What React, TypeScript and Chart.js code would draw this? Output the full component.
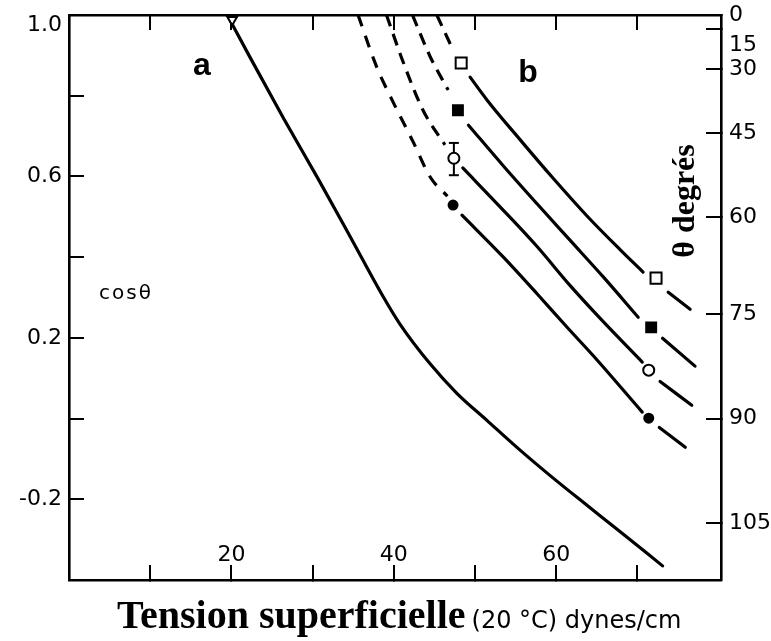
import React, { useEffect, useRef } from 'react';
import { Chart, registerables } from 'chart.js';

Chart.register(...registerables);

// ---- axes ----
const xTickValues = [10, 20, 30, 40, 50, 60, 70];
const xTickLabels = ['', '20', '', '40', '', '60', ''];
const cosTickValues = [-0.2, 0, 0.2, 0.4, 0.6, 0.8, 1.0];
const cosTickLabels: (string | string[])[] = ['-0.2', '', '0.2', '', '0.6', '', ['', '1.0']];
const thetaTicks = [105, 90, 75, 60, 45, 30, 15, 0];
const thetaTickLabels: (string | string[])[] = ['105', '90', '75', '60', '45', '30', ['', '15'], '0'];

// ---- curve a ----
const curveAX = [19.5, 22.3, 26.4, 30.6, 34.6, 38.7, 40.8, 44.5, 47.8, 51.5, 55.2, 59.3, 63.3, 67.5, 73.1];
const curveAY = [1.0, 0.895, 0.745, 0.597, 0.452, 0.302, 0.233, 0.135, 0.062, -0.005, -0.072, -0.142, -0.207, -0.274, -0.365];
const curveAMarkerX = [20.1];
const curveAMarkerY = [0.988];

// ---- curves b : open square ----
const sqOpenDashX = [45.3, 47.3];
const sqOpenDashY = [1.0, 0.913];
const sqOpenSolidX = [49.4, 51.5, 55.6, 59.6, 63.8, 67.9, 70.7];
const sqOpenSolidY = [0.846, 0.789, 0.69, 0.596, 0.502, 0.418, 0.363];
const sqOpenTailX = [73.8, 76.5];
const sqOpenTailY = [0.313, 0.271];
const sqOpenMarkX = [48.3, 72.3];
const sqOpenMarkY = [0.881, 0.348];

// ---- filled square ----
const sqFillDashX = [42.3, 44.5, 46.7];
const sqFillDashY = [1.0, 0.896, 0.814];
const sqFillSolidX = [49.2, 53.5, 57.7, 61.7, 65.8, 70.1];
const sqFillSolidY = [0.727, 0.626, 0.531, 0.442, 0.351, 0.251];
const sqFillTailX = [73.1, 77.1];
const sqFillTailY = [0.199, 0.13];
const sqFillMarkX = [47.9, 71.7];
const sqFillMarkY = [0.764, 0.226];

// ---- open circle ----
const ciOpenDashX = [39.1, 41.2, 43.6, 46.3];
const ciOpenDashY = [1.0, 0.881, 0.764, 0.678];
const ciOpenSolidX = [48.5, 53.5, 57.7, 61.7, 65.8, 70.6];
const ciOpenSolidY = [0.621, 0.516, 0.425, 0.33, 0.24, 0.14];
const ciOpenTailX = [72.8, 76.7];
const ciOpenTailY = [0.092, 0.033];
const ciOpenMarkX = [47.4, 71.4];
const ciOpenMarkY = [0.645, 0.12];
const ciOpenErrX = [47.4, 47.4];
const ciOpenErrY = [0.603, 0.683];

// ---- filled circle ----
const ciFillDashX = [35.6, 37.9, 39.8, 42.4, 44.5, 46.6];
const ciFillDashY = [1.0, 0.871, 0.789, 0.685, 0.598, 0.551];
const ciFillSolidX = [48.4, 53.5, 57.7, 61.4, 64.6, 70.6];
const ciFillSolidY = [0.504, 0.4, 0.308, 0.225, 0.155, 0.016];
const ciFillTailX = [72.7, 75.9];
const ciFillTailY = [-0.022, -0.071];
const ciFillMarkX = [47.3, 71.4];
const ciFillMarkY = [0.529, 0.001];

const pts = (xs: number[], ys: number[]) => xs.map((x, i) => ({ x, y: ys[i] }));

const lineDs = (xs: number[], ys: number[], dash: number[] = [], width = 3.2) => ({
  data: pts(xs, ys),
  showLine: true,
  borderColor: '#000',
  borderWidth: width,
  borderDash: dash,
  borderCapStyle: dash.length ? 'butt' : 'round',
  pointRadius: 0,
  cubicInterpolationMode: 'monotone',
  fill: false,
});

const markDs = (xs: number[], ys: number[], style: string, radius: number, fill: string, rotation = 0) => ({
  data: pts(xs, ys),
  showLine: false,
  pointStyle: style,
  pointRadius: radius,
  pointRotation: rotation,
  pointBackgroundColor: fill,
  pointBorderColor: '#000',
  pointBorderWidth: 2,
});

const textPlugin = {
  id: 'texts',
  afterDraw(chart: any) {
    const ctx = chart.ctx as CanvasRenderingContext2D;
    ctx.save();
    ctx.fillStyle = '#000';
    ctx.textBaseline = 'alphabetic';
    ctx.textAlign = 'center';
    ctx.font = 'bold 32px "Liberation Sans"';
    ctx.fillText('a', 202, 75);
    ctx.fillText('b', 528, 82);

    ctx.textAlign = 'left';
    ctx.font = '20px "DejaVu Sans"';
    (ctx as any).letterSpacing = '2px';
    ctx.fillText('cosθ', 99, 299);
    (ctx as any).letterSpacing = '0px';

    // right axis title
    ctx.save();
    ctx.translate(694, 201);
    ctx.rotate(-Math.PI / 2);
    ctx.textAlign = 'center';
    ctx.font = 'bold 32px "Liberation Serif"';
    ctx.fillText('θ degrés', 0, 0);
    ctx.restore();

    // x axis title
    ctx.textAlign = 'left';
    ctx.font = 'bold 40px "Liberation Serif"';
    const t1 = 'Tension superficielle';
    ctx.fillText(t1, 117, 628);
    const w1 = ctx.measureText(t1).width;
    ctx.font = '24px "DejaVu Sans"';
    ctx.fillText('(20 °C) dynes/cm', 117 + w1 + 6, 628);
    ctx.restore();
  },
};

export default function App() {
  const ref = useRef<HTMLCanvasElement>(null);
  useEffect(() => {
    const canvas = ref.current!;
    const gridOpts = {
      drawOnChartArea: false,
      drawTicks: true,
      tickLength: -15,
      color: '#000',
      lineWidth: 2,
    };
    const borderOpts = { display: true, color: '#000', width: 2.6 };
    const fitH = (h: number) => (s: any) => { s.height = h; s.paddingLeft = 0; s.paddingRight = 0; };
    const fitW = (w: number) => (s: any) => { s.width = w; s.paddingTop = 0; s.paddingBottom = 0; };
    const chart = new Chart(canvas, {
      type: 'scatter',
      data: {
        datasets: [
          markDs(sqOpenMarkX, sqOpenMarkY, 'rect', 7.8, '#fff'),
          markDs(sqFillMarkX, sqFillMarkY, 'rect', 7, '#000'),
          markDs(ciOpenMarkX, ciOpenMarkY, 'circle', 5.5, '#fff'),
          markDs(ciFillMarkX, ciFillMarkY, 'circle', 4.5, '#000'),
          markDs(curveAMarkerX, curveAMarkerY, 'triangle', 5.5, '#fff', 180),
          {
            data: pts(ciOpenErrX, ciOpenErrY),
            showLine: true,
            borderColor: '#000',
            borderWidth: 2,
            pointStyle: 'line',
            pointRadius: 5,
            pointBorderColor: '#000',
            pointBorderWidth: 2,
          },
          lineDs(curveAX, curveAY),
          lineDs(sqOpenDashX, sqOpenDashY, [12, 8]),
          lineDs(sqOpenSolidX, sqOpenSolidY),
          lineDs(sqOpenTailX, sqOpenTailY),
          lineDs(sqFillDashX, sqFillDashY, [12, 8]),
          lineDs(sqFillSolidX, sqFillSolidY),
          lineDs(sqFillTailX, sqFillTailY),
          lineDs(ciOpenDashX, ciOpenDashY, [12, 8]),
          lineDs(ciOpenSolidX, ciOpenSolidY),
          lineDs(ciOpenTailX, ciOpenTailY),
          lineDs(ciFillDashX, ciFillDashY, [12, 10]),
          lineDs(ciFillSolidX, ciFillSolidY),
          lineDs(ciFillTailX, ciFillTailY),
        ] as any,
      },
      options: {
        animation: false,
        responsive: false,
        devicePixelRatio: 1,
        events: [],
        layout: { padding: 0 },
        plugins: { legend: { display: false }, tooltip: { enabled: false } },
        scales: {
          x: {
            type: 'linear',
            position: 'bottom',
            min: 0,
            max: 80.3,
            grid: gridOpts,
            border: borderOpts,
            afterBuildTicks: (s: any) => { s.ticks = xTickValues.map((v) => ({ value: v })); },
            afterFit: fitH(61),
            ticks: {
              font: { family: '"DejaVu Sans"', size: 22, lineHeight: 1.2 },
              color: '#000',
              padding: 12,
              mirror: true,
              maxRotation: 0,
              autoSkip: false,
              callback: (_v: any, i: number) => xTickLabels[i],
            },
          },
          xTop: {
            type: 'linear',
            position: 'top',
            min: 0,
            max: 80.3,
            grid: gridOpts,
            border: borderOpts,
            afterBuildTicks: (s: any) => { s.ticks = xTickValues.map((v) => ({ value: v })); },
            afterFit: fitH(15),
            ticks: { display: true, padding: 0, callback: () => '' },
          },
          y: {
            type: 'linear',
            position: 'left',
            min: -0.4,
            max: 1.0,
            grid: gridOpts,
            border: borderOpts,
            afterBuildTicks: (s: any) => { s.ticks = cosTickValues.map((v) => ({ value: v })); },
            afterFit: fitW(69),
            ticks: {
              font: { family: '"DejaVu Sans"', size: 22, lineHeight: 0.9 },
              color: '#000',
              padding: 22,
              autoSkip: false,
              callback: (_v: any, i: number) => cosTickLabels[i],
            },
          },
          yRight: {
            type: 'linear',
            position: 'right',
            min: -0.4,
            max: 1.0,
            grid: gridOpts,
            border: borderOpts,
            afterBuildTicks: (s: any) => {
              s.ticks = thetaTicks.map((d) => ({ value: Math.cos((d * Math.PI) / 180) }));
            },
            afterFit: fitW(50),
            ticks: {
              font: { family: '"DejaVu Sans"', size: 22, lineHeight: 1.5 },
              color: '#000',
              padding: 23,
              autoSkip: false,
              callback: (_v: any, i: number) => thetaTickLabels[i],
            },
          },
        },
      } as any,
      plugins: [textPlugin],
    });
    return () => chart.destroy();
  }, []);
  return (
    <div style={{ position: 'fixed', left: 0, top: 0, width: 771, height: 641, background: '#fff' }}>
      <canvas ref={ref} width={771} height={641} style={{ display: 'block' }} />
    </div>
  );
}
